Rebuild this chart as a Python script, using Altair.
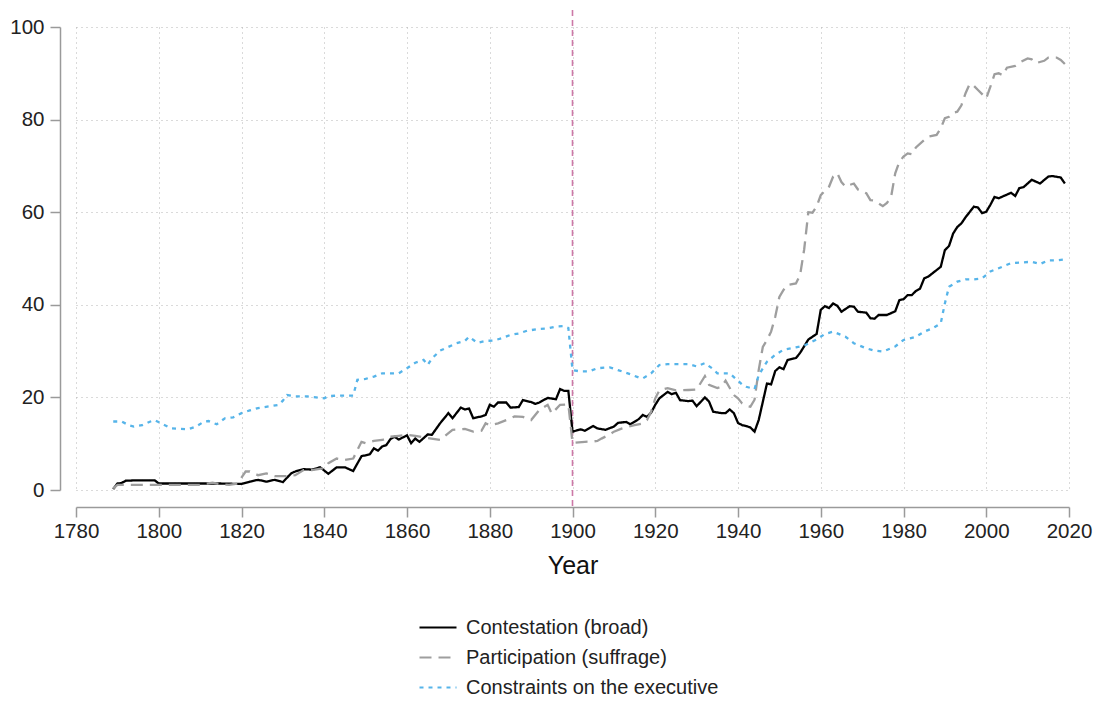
import altair as alt
import pandas as pd

# Contestation (broad)
cont_years = [1789, 1790, 1791, 1792, 1795, 1799, 1800, 1805, 1810, 1815, 1820, 1822, 1824, 1826, 1828, 1830,
              1832, 1833, 1835, 1837, 1839, 1841, 1843, 1845, 1847, 1849, 1851, 1852, 1853, 1854, 1855, 1856,
              1857, 1858, 1860, 1861, 1862, 1863, 1865, 1866, 1868, 1870, 1871, 1873, 1874, 1875, 1876, 1878,
              1879, 1880, 1881, 1882, 1884, 1885, 1887, 1888, 1890, 1891, 1892, 1894, 1896, 1897, 1898, 1899,
              1900, 1902, 1903, 1905, 1906, 1908, 1910, 1911, 1913, 1914, 1916, 1917, 1918, 1919, 1920, 1921,
              1923, 1924, 1925, 1926, 1928, 1929, 1930, 1932, 1933, 1934, 1936, 1937, 1938, 1939, 1940, 1941,
              1942, 1943, 1944, 1945, 1947, 1948, 1949, 1950, 1951, 1952, 1954, 1955, 1957, 1959, 1960, 1961,
              1962, 1963, 1964, 1965, 1967, 1968, 1969, 1971, 1972, 1973, 1974, 1976, 1978, 1979, 1980, 1981,
              1982, 1983, 1984, 1985, 1986, 1987, 1989, 1990, 1991, 1992, 1993, 1994, 1995, 1997, 1998, 1999,
              2000, 2001, 2002, 2003, 2006, 2007, 2008, 2009, 2011, 2013, 2015, 2016, 2018, 2019]
cont_values = [0.2, 1.4, 1.5, 2.0, 2.1, 2.1, 1.4, 1.4, 1.4, 1.4, 1.3, 1.8, 2.2, 1.8, 2.2, 1.7,
               3.6, 4.0, 4.5, 4.4, 4.9, 3.5, 4.9, 4.9, 4.1, 7.3, 7.7, 9.0, 8.5, 9.4, 9.7, 11.0,
               11.5, 10.9, 11.8, 10.1, 11.1, 10.4, 12.0, 11.9, 14.4, 16.6, 15.5, 17.8, 17.4, 17.6, 15.5, 15.9,
               16.2, 18.4, 18.0, 18.9, 18.9, 17.8, 17.9, 19.4, 19.0, 18.6, 18.9, 19.9, 19.6, 21.8, 21.4, 21.4,
               12.6, 13.1, 12.8, 13.8, 13.3, 13.0, 13.7, 14.5, 14.7, 14.2, 15.3, 16.2, 15.8, 16.7, 18.4, 19.8,
               21.2, 20.7, 21.0, 19.4, 19.2, 19.3, 18.1, 20.0, 19.1, 16.9, 16.6, 16.6, 17.4, 16.6, 14.5, 14.0,
               13.8, 13.5, 12.6, 15.1, 23.0, 22.8, 25.7, 26.5, 26.1, 28.1, 28.5, 29.6, 32.5, 33.7, 38.9, 39.7,
               39.3, 40.3, 39.8, 38.5, 39.7, 39.6, 38.5, 38.3, 37.1, 37.0, 37.8, 37.8, 38.6, 41.0, 41.2, 42.1,
               42.1, 43.0, 43.5, 45.7, 46.1, 46.8, 48.2, 51.8, 52.7, 55.4, 56.8, 57.6, 58.9, 61.2, 61.0, 59.8,
               60.1, 61.6, 63.3, 63.0, 64.2, 63.5, 65.2, 65.4, 67.0, 66.2, 67.7, 67.8, 67.5, 66.2]

# Participation (suffrage)
part_years = [1789, 1790, 1795, 1800, 1805, 1810, 1813, 1815, 1817, 1819, 1821, 1822, 1824, 1826, 1828, 1831,
              1833, 1835, 1837, 1840, 1841, 1843, 1845, 1847, 1849, 1850, 1852, 1854, 1856, 1858, 1860, 1862,
              1865, 1868, 1871, 1874, 1876, 1878, 1879, 1880, 1882, 1884, 1886, 1888, 1890, 1892, 1894, 1895,
              1897, 1899, 1900, 1903, 1905, 1906, 1907, 1909, 1910, 1912, 1914, 1915, 1917, 1918, 1919, 1920,
              1921, 1923, 1925, 1928, 1930, 1932, 1933, 1935, 1936, 1937, 1939, 1940, 1941, 1942, 1943, 1944,
              1945, 1946, 1947, 1948, 1949, 1950, 1951, 1952, 1954, 1955, 1956, 1957, 1958, 1959, 1960, 1962,
              1963, 1964, 1965, 1966, 1967, 1968, 1969, 1971, 1972, 1973, 1975, 1976, 1977, 1978, 1979, 1980,
              1981, 1982, 1983, 1985, 1986, 1988, 1989, 1990, 1991, 1992, 1993, 1994, 1995, 1996, 1997, 1998,
              2000, 2001, 2002, 2003, 2004, 2005, 2007, 2008, 2010, 2011, 2012, 2014, 2015, 2017, 2018, 2019]
part_values = [0.3, 1.1, 1.1, 1.1, 1.1, 1.1, 1.6, 1.2, 1.1, 1.4, 4.0, 4.0, 3.2, 3.6, 3.0, 3.0,
               3.2, 4.3, 4.3, 4.7, 5.8, 6.8, 6.5, 6.8, 10.4, 10.1, 10.6, 10.8, 11.5, 11.7, 11.9, 11.7,
               11.2, 10.8, 13.0, 13.2, 12.6, 12.8, 14.4, 14.0, 14.4, 15.1, 15.9, 15.8, 15.1, 17.3, 18.4, 16.5,
               18.4, 18.5, 10.2, 10.4, 10.5, 10.6, 11.1, 12.0, 12.6, 13.3, 13.8, 14.0, 14.4, 15.1, 16.9, 19.8,
               21.5, 22.0, 21.5, 21.6, 21.7, 24.6, 22.7, 22.0, 22.3, 23.6, 20.5, 19.8, 18.7, 18.2, 18.0, 19.5,
               25.9, 30.9, 32.4, 34.2, 37.4, 41.7, 43.2, 44.3, 44.6, 46.4, 52.0, 60.0, 59.9, 61.2, 63.7, 65.5,
               67.7, 68.4, 66.5, 65.5, 65.9, 66.2, 64.9, 64.1, 62.6, 62.5, 61.3, 62.0, 63.3, 68.4, 70.9, 72.0,
               72.7, 72.5, 74.0, 75.6, 76.3, 76.7, 78.1, 80.3, 80.6, 81.5, 81.7, 83.1, 85.7, 87.7, 87.3, 86.4,
               84.6, 87.1, 89.8, 90.0, 89.6, 91.2, 91.6, 92.3, 93.2, 93.0, 92.2, 92.7, 93.4, 93.4, 92.9, 92.0]

# Constraints on the executive
cons_years = [1789, 1791, 1793, 1794, 1796, 1798, 1799, 1801, 1803, 1805, 1807, 1809, 1811, 1812, 1814, 1816,
              1818, 1820, 1822, 1824, 1827, 1829, 1830, 1831, 1833, 1836, 1838, 1840, 1841, 1844, 1847, 1848,
              1850, 1852, 1854, 1856, 1858, 1860, 1862, 1864, 1865, 1866, 1868, 1870, 1872, 1874, 1875, 1877,
              1879, 1881, 1883, 1885, 1887, 1889, 1892, 1894, 1896, 1898, 1899, 1900, 1902, 1904, 1906, 1909,
              1911, 1914, 1916, 1917, 1919, 1921, 1923, 1926, 1928, 1930, 1932, 1934, 1935, 1938, 1939, 1941,
              1942, 1944, 1945, 1947, 1949, 1951, 1954, 1956, 1959, 1961, 1963, 1966, 1968, 1971, 1973, 1975,
              1978, 1980, 1983, 1985, 1987, 1989, 1990, 1991, 1993, 1995, 1997, 1999, 2001, 2003, 2006, 2008,
              2011, 2013, 2015, 2017, 2019]
cons_values = [14.8, 14.8, 13.9, 13.7, 14.0, 14.8, 15.1, 14.2, 13.3, 13.2, 13.1, 13.7, 14.8, 14.9, 14.2, 15.5,
               15.7, 16.6, 17.2, 17.7, 18.1, 18.4, 19.3, 20.5, 20.2, 20.2, 20.0, 19.8, 20.3, 20.4, 20.4, 23.8,
               24.0, 24.5, 25.2, 25.2, 25.2, 26.3, 27.5, 28.1, 27.0, 28.4, 30.1, 30.9, 31.7, 32.2, 33.1, 31.8,
               32.2, 32.3, 32.8, 33.5, 33.8, 34.4, 34.8, 34.9, 35.3, 35.4, 35.0, 25.9, 25.6, 25.6, 26.3, 26.5,
               25.9, 25.0, 24.3, 24.1, 25.2, 27.0, 27.2, 27.2, 27.2, 26.7, 27.4, 26.1, 25.2, 25.2, 24.4, 22.8,
               22.3, 21.8, 24.8, 27.7, 29.2, 30.3, 30.8, 31.2, 32.5, 33.7, 34.2, 33.1, 31.7, 30.6, 30.1, 29.9,
               31.0, 32.4, 33.1, 34.2, 34.9, 36.0, 40.3, 43.9, 45.0, 45.5, 45.5, 45.7, 47.2, 47.9, 49.0, 49.1,
               49.3, 48.8, 49.6, 49.6, 49.8]

series_names = ["Contestation (broad)", "Participation (suffrage)", "Constraints on the executive"]
series_colors = ["#000000", "#9e9e9e", "#56b4e9"]
series_dashes = [[1, 0], [12, 7], [4, 5]]

marker_year = [1900]
x_ticks = [1780, 1800, 1820, 1840, 1860, 1880, 1900, 1920, 1940, 1960, 1980, 2000, 2020]
y_ticks = [0, 20, 40, 60, 80, 100]

frames = []
for name, yrs, vals in [(series_names[0], cont_years, cont_values),
                        (series_names[1], part_years, part_values),
                        (series_names[2], cons_years, cons_values)]:
    frames.append(pd.DataFrame({"Year": yrs, "Value": vals, "Series": name}))
df = pd.concat(frames, ignore_index=True)
df_rule = pd.DataFrame({"Year": marker_year})

FONT = "Liberation Sans"
W, H = 993, 463

lines = alt.Chart(df).mark_line(strokeWidth=2.3).encode(
    x=alt.X("Year:Q",
            scale=alt.Scale(domain=[1780, 2020], nice=False, zero=False),
            axis=alt.Axis(values=x_ticks, format="d", title="Year", offset=17,
                          tickSize=10, labelPadding=4, titlePadding=12,
                          labelFlush=False, labelOverlap=False, labelFontSize=20.5)),
    y=alt.Y("Value:Q",
            scale=alt.Scale(domain=[0, 100], nice=False),
            axis=alt.Axis(values=y_ticks, title=None, offset=16, tickSize=10, labelPadding=6,
                          labelFlush=False, labelFontSize=20.5)),
    color=alt.Color("Series:N",
                    scale=alt.Scale(domain=series_names, range=series_colors),
                    sort=series_names,
                    legend=alt.Legend(orient="none", legendX=342, legendY=590, title=None,
                                      symbolType="stroke", symbolSize=1369, symbolStrokeWidth=2.2,
                                      labelFontSize=20, labelFont=FONT, labelColor="#222222",
                                      clipHeight=21, rowPadding=9, padding=0, labelOffset=8)),
    strokeDash=alt.StrokeDash("Series:N",
                              scale=alt.Scale(domain=series_names, range=series_dashes),
                              sort=series_names, legend=None),
    order=alt.Order("Year:Q"),
)

rule = alt.Chart(df_rule).mark_rule(color="#cc79a7", strokeDash=[6, 4], strokeWidth=1.6).encode(
    x=alt.X("Year:Q"),
    y=alt.value(-17),
    y2=alt.value(H + 17),
)

chart = alt.layer(rule, lines).properties(
    width=W, height=H,
    autosize=alt.AutoSizeParams(type="none"),
    padding={"left": 68, "top": 19, "right": 24, "bottom": 207},
).configure_view(stroke=None).configure_axis(
    labelFont=FONT, titleFont=FONT, labelFontSize=20.5, titleFontSize=25,
    titleFontWeight="normal", labelColor="#222222", titleColor="#111111",
    domainColor="#9a9a9a", tickColor="#9a9a9a", domainWidth=1.5, tickWidth=1.5,
    gridColor="#b4b4b4", gridDash=[1, 4], gridWidth=1,
).configure_legend(labelLimit=400)

chart.save("out.html", embed_options={"renderer": "svg", "actions": False})
